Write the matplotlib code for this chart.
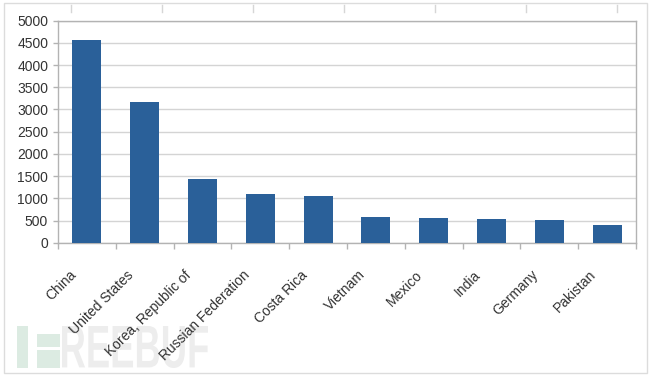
import matplotlib
matplotlib.use('Agg')
import matplotlib.pyplot as plt
import matplotlib.transforms as mtransforms
from matplotlib.textpath import TextPath
from matplotlib.patches import PathPatch, Rectangle
from matplotlib.font_manager import FontProperties
from matplotlib.lines import Line2D
import numpy as np

countries = ["China", "United States", "Korea, Republic of", "Russian Federation",
             "Costa Rica", "Vietnam", "Mexico", "India", "Germany", "Pakistan"]
counts = [4555, 3170, 1440, 1100, 1060, 575, 550, 540, 510, 405]
y_ticks = [0, 500, 1000, 1500, 2000, 2500, 3000, 3500, 4000, 4500, 5000]

plt.rcParams['font.family'] = ['Liberation Sans', 'DejaVu Sans']

W, H = 650, 375
fig = plt.figure(figsize=(W / 100, H / 100), dpi=100)
fig.patch.set_facecolor('white')

ax_l, ax_r, ax_t, ax_b = 58, 636, 20.7, 242.7
ax = fig.add_axes([ax_l / W, 1 - ax_b / H, (ax_r - ax_l) / W, (ax_b - ax_t) / H])
ax.set_zorder(2)
ax.patch.set_alpha(0)

x = np.arange(len(countries))
ax.bar(x, counts, width=0.5, color='#2a6099', zorder=3)
ax.set_xlim(-0.5, len(countries) - 0.5)
ax.set_ylim(0, 5000)
ax.set_yticks(y_ticks)
ax.yaxis.grid(True, color='#d4d4d4', lw=1, zorder=0)
for s in ax.spines.values():
    s.set_color('#b3b3b3')
    s.set_linewidth(1)
ax.tick_params(axis='y', length=3.6, width=1, color='#b3b3b3', labelsize=10,
               labelcolor='#333333', pad=3.5)

ax.set_xticks(x)
ax.set_xticklabels(countries, rotation=45, ha='right', rotation_mode='anchor',
                   fontsize=10, color='#333333')
ax.tick_params(axis='x', which='major', length=0, pad=0)
ax.set_xticks(np.arange(-0.5, len(countries), 1), minor=True)
ax.tick_params(axis='x', which='minor', length=4.3, width=1, color='#b3b3b3')
off = mtransforms.ScaledTranslation(-18 / 100, -25 / 100, fig.dpi_scale_trans)
for lbl in ax.get_xticklabels():
    lbl.set_transform(lbl.get_transform() + off)

# outer frame of the picture
fig.patches.append(Rectangle((4 / W, 1 - 373 / H), (647 - 4) / W, (373 - 3) / H,
                             transform=fig.transFigure, fill=False,
                             edgecolor='#dcdcdc', lw=1, zorder=1))
# faint ruler marks at the top
for xm in np.arange(70.7, 620, 91):
    fig.lines.append(Line2D([xm / W, xm / W], [1 - 5 / H, 1 - 12 / H],
                            transform=fig.transFigure, color='#d6d6d6', lw=1,
                            zorder=1))

# watermark (behind the chart)
green = '#dcebe2'
def pix_rect(x0, y0, x1, y1, color):
    fig.patches.append(Rectangle((x0 / W, 1 - y1 / H), (x1 - x0) / W, (y1 - y0) / H,
                                 transform=fig.transFigure, facecolor=color,
                                 edgecolor='none', zorder=1))
pix_rect(17, 326, 28, 368, green)
pix_rect(37, 334, 60, 347, green)
pix_rect(37, 350, 60, 368, green)

tp = TextPath((0, 0), "REEBUF", size=100,
              prop=FontProperties(family='Liberation Sans', weight='bold'))
bb = tp.get_extents()
tr = (mtransforms.Affine2D().translate(-bb.x0, -bb.y0)
      .scale(146 / bb.width, 42 / bb.height).translate(62, H - 368))
fig.patches.append(PathPatch(tp, transform=tr, facecolor='#ededed',
                             edgecolor='none', zorder=1))

fig.savefig('out.png', dpi=100, facecolor='white')
